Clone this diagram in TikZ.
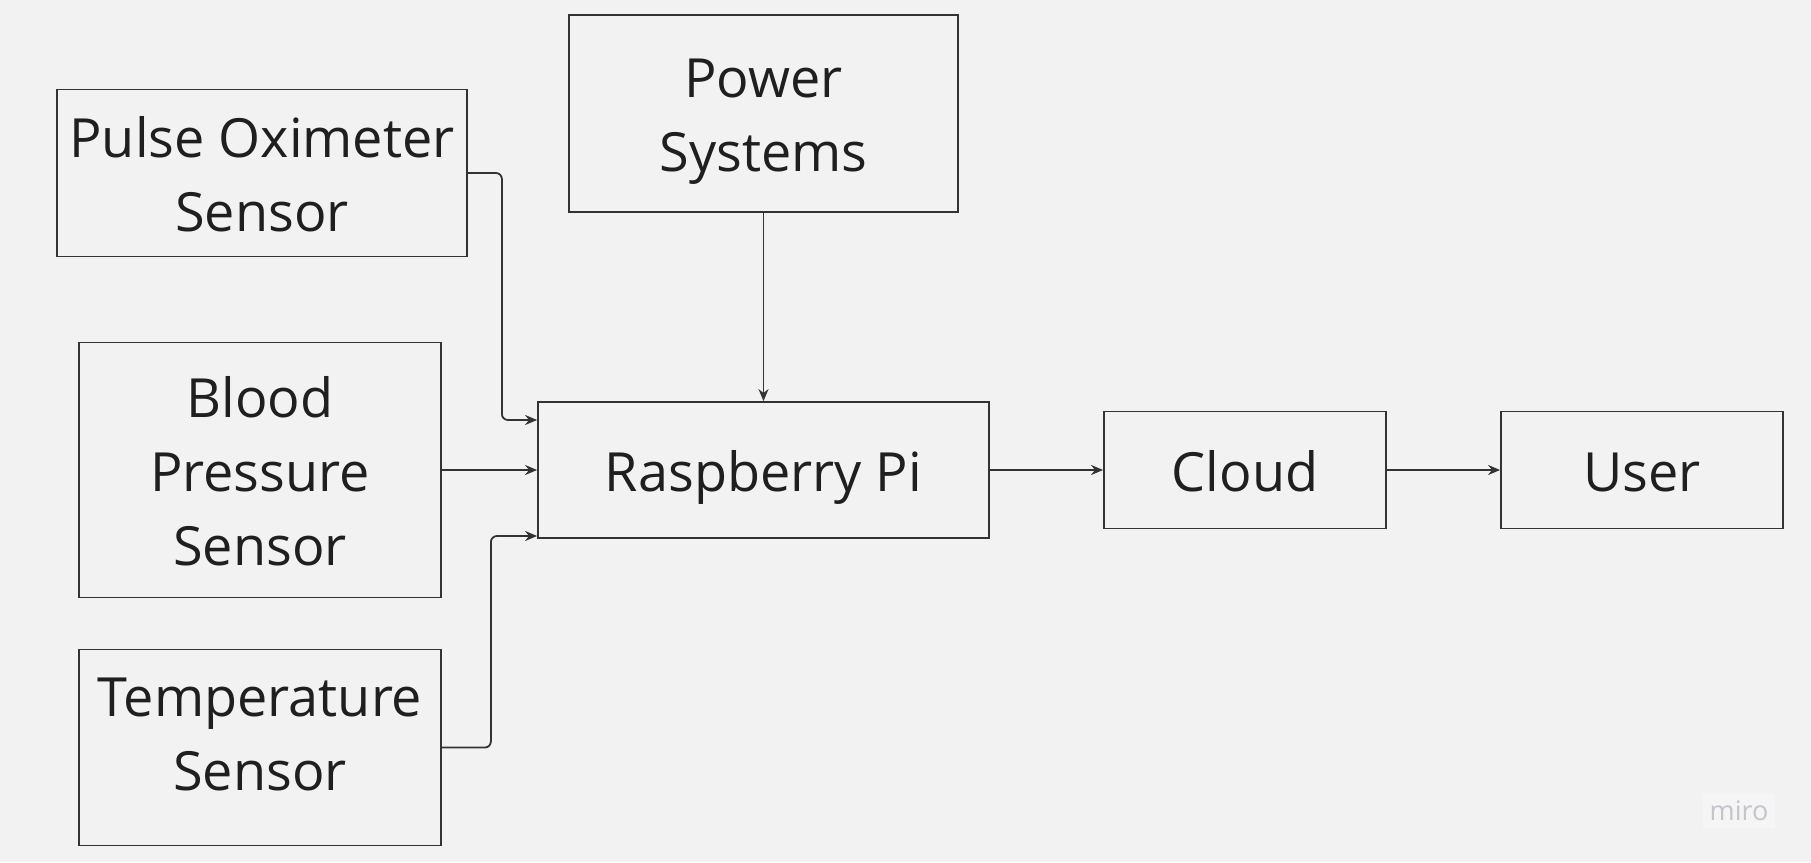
\documentclass[tikz,border=0pt]{standalone}
\usepackage{fontspec}
\setmainfont{Open Sans}
\usepackage{xcolor}
\definecolor{bg}{HTML}{F2F2F2}
\definecolor{edge}{HTML}{333333}
\definecolor{ink}{HTML}{1F1F1F}
\definecolor{mirogray}{HTML}{C4C4CE}
\usetikzlibrary{positioning,arrows.meta}
\tikzset{
  block/.style={rectangle, draw=edge, line width=1.8pt, inner sep=0pt, align=center, text=ink, text height=58pt, text depth=16pt, font=\fontsize{54}{74}\selectfont},
  link/.style={-{Stealth[length=12pt,width=10pt]}, draw=edge, line width=1.8pt, rounded corners=6pt}
}

\begin{document}
\begin{tikzpicture}[x=1pt, y=-1pt, node distance=100pt]
    \fill[bg] (0,0) rectangle (1811,862);
    \useasboundingbox (0,0) rectangle (1811,862);

    \node [block, minimum width=451pt, minimum height=136pt] at (763.5,470) (rpi) {Raspberry Pi};
    \node [block, minimum width=389pt, minimum height=197pt, text height=132pt, above of=rpi, node distance=356.5pt] (power) {Power\\Systems};
    \node [block, minimum width=362pt, minimum height=255pt, text height=206pt, left of=rpi, node distance=503.5pt] (bp) {Blood\\Pressure\\Sensor};
    \node [block, minimum width=410pt, minimum height=167pt, text height=132pt, above of=bp, node distance=297pt, xshift=2pt] (pulse) {Pulse Oximeter\\Sensor};
    \node [block, minimum width=362pt, minimum height=196pt, text height=132pt, text depth=46pt, below of=bp, node distance=277.5pt] (temp) {Temperature\\Sensor};
    \node [block, minimum width=282pt, minimum height=117pt, right of=rpi, node distance=481.5pt] (cloud) {Cloud};
    \node [block, minimum width=282pt, minimum height=117pt, right of=cloud, node distance=397pt] (user) {User};
    \node [fill=white, fill opacity=0.25, text opacity=1, text=mirogray, inner sep=7pt, font=\fontsize{27}{30}\selectfont] at (1739,811) (watermark) {miro};

    \draw [link] (pulse.east) -- ++(34,0) |- ([yshift=50pt]rpi.west);
    \draw [link] (bp) -- (rpi);
    \draw [link] (temp.east) -- ++(49,0) |- ([yshift=-66pt]rpi.west);
    \draw [link] (power.south) -- (power.south |- rpi.north);
    \draw [link] (rpi) -- (cloud);
    \draw [link] (cloud) -- (user);
\end{tikzpicture}
\end{document}
